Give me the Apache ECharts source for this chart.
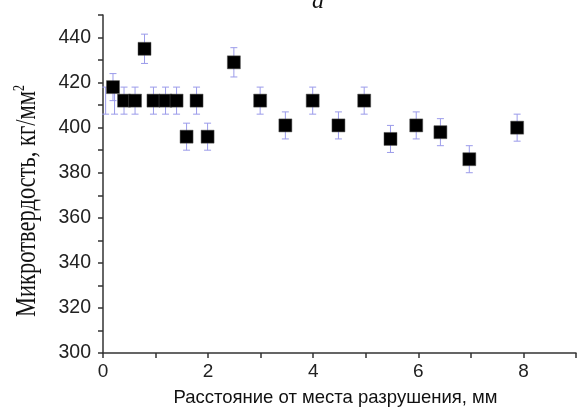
<!DOCTYPE html>
<html>
<head>
<meta charset="utf-8">
<script src="https://cdn.jsdelivr.net/npm/echarts@6/dist/echarts.min.js"></script>
<style>
  html, body { margin: 0; padding: 0; background: #fff; }
  #chart { width: 579px; height: 412px; }
</style>
</head>
<body>
<div id="chart"></div>
<script>
// distance from fracture, mm
var distance = [0.19, 0.4, 0.61, 0.79, 0.96, 1.19, 1.4, 1.59, 1.78, 1.99, 2.49, 2.99, 3.47, 3.99, 4.48, 4.97, 5.47, 5.96, 6.42, 6.97, 7.88];
// microhardness, kg/mm2
var hardness = [418, 412, 412, 435, 412, 412, 412, 396, 412, 396, 429, 412, 401, 412, 401, 412, 395, 401, 398, 386, 400];
var hardnessErr = [6, 6, 6, 6.5, 6, 6, 6, 6, 6, 6, 6.5, 6, 6, 6, 6, 6, 6, 6, 6, 6, 6];
// points hidden behind the first marker, only their error bars show
var hiddenX = [0.05, 0.22];
var hiddenY = [412, 412];
var hiddenErr = [6, 6];

var xTicks = [0, 2, 4, 6, 8];
var yTicks = [300, 320, 340, 360, 380, 400, 420, 440];

function errRows(xs, ys, es) {
    var rows = [];
    for (var i = 0; i < xs.length; i++) rows.push([xs[i], ys[i] - es[i], ys[i] + es[i]]);
    return rows;
}

function renderErr(params, api) {
    var lo = api.coord([api.value(0), api.value(1)]);
    var hi = api.coord([api.value(0), api.value(2)]);
    var cap = 3.5;
    var st = { stroke: '#9b9bea', lineWidth: 1 };
    return {
        type: 'group',
        children: [
            { type: 'line', shape: { x1: lo[0], y1: lo[1], x2: hi[0], y2: hi[1] }, style: st },
            { type: 'line', shape: { x1: lo[0] - cap, y1: lo[1], x2: lo[0] + cap, y2: lo[1] }, style: st },
            { type: 'line', shape: { x1: hi[0] - cap, y1: hi[1], x2: hi[0] + cap, y2: hi[1] }, style: st }
        ]
    };
}

var points = [];
for (var i = 0; i < distance.length; i++) points.push([distance[i], hardness[i]]);

var chart = echarts.init(document.getElementById('chart'));
chart.setOption({
    animation: false,
    grid: { left: 103, right: 0, top: 15, bottom: 55 },
    xAxis: {
        type: 'value', min: 0, max: 9, interval: 1,
        splitLine: { show: false },
        axisLine: { lineStyle: { color: '#333', width: 1.5 } },
        axisTick: { inside: false, length: 5, lineStyle: { color: '#333', width: 1.5 } },
        axisLabel: {
            margin: 9, fontSize: 19, color: '#222', fontFamily: 'Liberation Sans',
            formatter: function(v) { return xTicks.indexOf(v) >= 0 ? String(v) : ''; }
        },
        name: 'Расстояние от места разрушения, мм',
        nameLocation: 'middle', nameGap: 35,
        nameTextStyle: { fontSize: 18.5, color: '#111', fontFamily: 'Liberation Sans', padding: [0, 8, 0, 0] }
    },
    yAxis: {
        type: 'value', min: 300, max: 450, interval: 10,
        splitLine: { show: false },
        axisLine: { show: true, lineStyle: { color: '#333', width: 1.5 } },
        axisTick: { show: true, length: 5, lineStyle: { color: '#333', width: 1.5 } },
        axisLabel: {
            margin: 12, fontSize: 19.5, color: '#222', fontFamily: 'Liberation Sans',
            formatter: function(v) { return yTicks.indexOf(v) >= 0 ? String(v) : ''; }
        }
    },
    graphic: [
        {
            type: 'text', x: 312, y: -10,
            style: { text: 'a', font: 'italic 24px "Liberation Serif"', fill: '#111' }
        },
        {
            type: 'text', x: 27, y: 201, rotation: Math.PI / 2, scaleY: 1.35,
            style: {
                text: '{t|Микротвердость, кг/мм}{s|2}',
                align: 'center', verticalAlign: 'middle',
                rich: {
                    t: { font: '22.5px "Liberation Serif"', fill: '#111' },
                    s: { font: '12px "Liberation Serif"', fill: '#111', verticalAlign: 'top', padding: [0, 0, 10, 0] }
                }
            }
        }
    ],
    series: [
        {
            type: 'custom', renderItem: renderErr, z: 1,
            encode: { x: 0, y: [1, 2] },
            data: errRows(hiddenX, hiddenY, hiddenErr)
        },
        {
            type: 'custom', renderItem: renderErr, z: 1,
            encode: { x: 0, y: [1, 2] },
            data: errRows(distance, hardness, hardnessErr)
        },
        {
            type: 'scatter', z: 2,
            symbol: 'rect', symbolSize: 13,
            itemStyle: { color: '#000', opacity: 1, borderColor: '#555', borderWidth: 0.5 },
            data: points
        }
    ]
});
</script>
</body>
</html>
